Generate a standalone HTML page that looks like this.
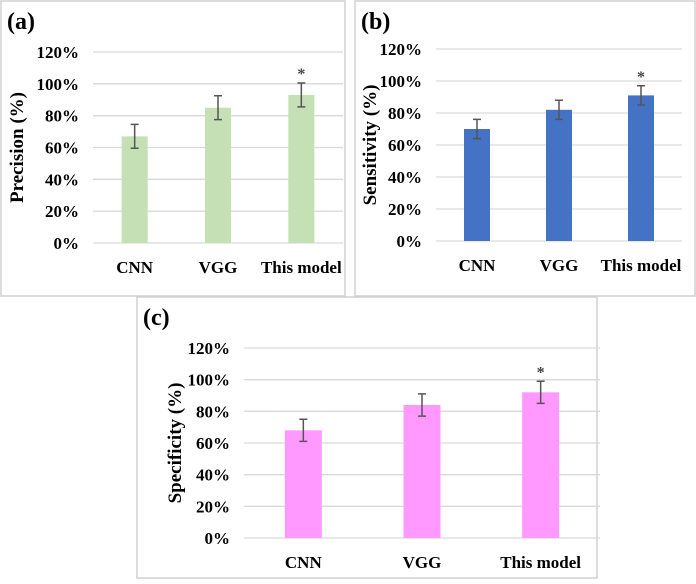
<!DOCTYPE html>
<html><head><meta charset="utf-8"><style>
body{margin:0;background:#fff;width:696px;height:579px;overflow:hidden;font-family:"Liberation Serif",serif}
svg text{font-family:"Liberation Serif",serif;font-weight:bold}
</style></head><body>
<svg id="chart" width="696" height="579"></svg>
<script>
const categories=["CNN","VGG","This model"];
const precisionValues=[67,85,93];
const precisionErrors=[7.5,7.5,7.5];
const sensitivityValues=[70,82,91];
const sensitivityErrors=[6,6,6];
const specificityValues=[68,84,92];
const specificityErrors=[7,7,7];
const tickLabels=["0%","20%","40%","60%","80%","100%","120%"];
const tickValues=[0,20,40,60,80,100,120];
const sigMarks=[false,false,true];

const NS="http://www.w3.org/2000/svg";
const svg=document.getElementById('chart');
function mk(tag,attrs,parent){const e=document.createElementNS(NS,tag);for(const k in attrs)e.setAttribute(k,attrs[k]);(parent||svg).appendChild(e);return e;}

function panel(cfg){
  const g=mk('g',{});
  
  
  const box=mk('rect',{x:cfg.bx,y:cfg.by,width:cfg.bw,height:cfg.bh,fill:'#fff',stroke:'#d0d0d0','stroke-width':1.5},g);
  
  
  const lab=mk('text',{x:cfg.bx+6,y:cfg.by+28,'font-size':24},g);lab.textContent=cfg.label;
  
  
  const yS=v=>cfg.y0-(v/120)*(cfg.y0-cfg.y120);
  const bandW=(cfg.x1-cfg.x0)/categories.length;
  const xS=i=>cfg.x0+bandW*(i+0.5);
  tickValues.forEach((t,i)=>{
    const l=mk('line',{x1:cfg.x0,x2:cfg.x1,y1:yS(t),y2:yS(t),stroke:'#d9d9d9','stroke-width':1.3},g);
    
    
    const tx=mk('text',{x:cfg.x0-14,y:yS(t)+6,'text-anchor':'end','font-size':17},g);tx.textContent=tickLabels[i];
    
    
  });
  const yt=mk('text',{transform:`translate(${cfg.tx},${(cfg.y0+cfg.y120)/2}) rotate(-90)`,'text-anchor':'middle','font-size':19},g);
  yt.textContent=cfg.title;
  
  
  categories.forEach((c,i)=>{
    const v=cfg.values[i],e=cfg.errors[i],cx=xS(i);
    const r=mk('rect',{x:cx-cfg.bar/2,y:yS(v),width:cfg.bar,height:cfg.y0-yS(v),fill:cfg.color},g);
    
    
    const eg=mk('path',{d:`M${cx},${yS(v+e)}V${yS(v-e)}M${cx-4},${yS(v+e)}H${cx+4}M${cx-4},${yS(v-e)}H${cx+4}`,stroke:'#555','stroke-width':1.5,fill:'none'},g);
    
    
    if(sigMarks[i]){const s=mk('text',{x:cx,y:yS(v+e)-4,'text-anchor':'middle','font-size':16,'font-weight':'normal',fill:'#444'},g);s.textContent='*';
      
      }
    const xl=mk('text',{x:cx,y:cfg.y0+30,'text-anchor':'middle','font-size':17},g);xl.textContent=c;
    
    
  });
}
panel({name:'panel-precision',label:'(a)',bx:1,by:1,bw:344,bh:295,x0:93,x1:343,y0:243,y120:52,bar:26,tx:23,title:'Precision (%)',values:precisionValues,errors:precisionErrors,color:'#c5e0b4'});
panel({name:'panel-sensitivity',label:'(b)',bx:355,by:1,bw:340,bh:295,x0:436,x1:682,y0:241,y120:49,bar:26,tx:376,title:'Sensitivity (%)',values:sensitivityValues,errors:sensitivityErrors,color:'#4472c4'});
panel({name:'panel-specificity',label:'(c)',bx:137,by:297,bw:460,bh:281,x0:244,x1:600,y0:538,y120:348,bar:37,tx:181,title:'Specificity (%)',values:specificityValues,errors:specificityErrors,color:'#ff99ff'});
</script>
</body></html>
